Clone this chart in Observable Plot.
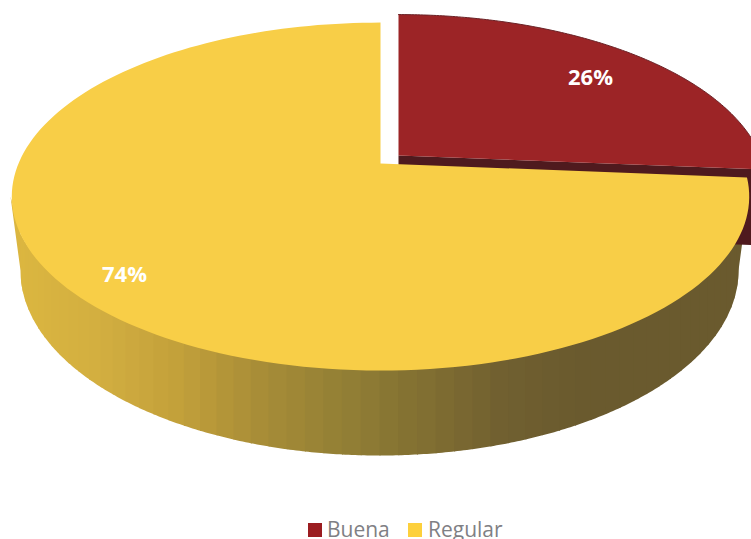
<!DOCTYPE html>
<html>
<head>
<meta charset="utf-8">
<script src="https://cdn.jsdelivr.net/npm/d3@7"></script>
<script src="https://cdn.jsdelivr.net/npm/@observablehq/plot@0.6"></script>
<style>
html,body{margin:0;padding:0;background:#fff;overflow:hidden}
#legend{position:relative;width:751px;height:23px;overflow:hidden;font-family:"Open Sans",sans-serif;font-size:21px;color:#7f8084}
#legend i{position:absolute;top:7px;width:14px;height:14px}
#legend span{position:absolute;top:3px;line-height:20px;white-space:nowrap}
</style>
</head>
<body>
<div id="chart"></div>
<div id="legend"></div>
<script>
const categories = ["Buena", "Regular"];
const shares = [26, 74];
const labels = ["26%", "74%"];
const sliceColors = ["#9c2426", "#f8ce47"];
const legendColors = ["#9b1c20", "#fdd03c"];
const darkRed = "#4f1a1e";
const redEdge = "#6a2226";
const wallStops = ["#dbb640", "#d2ae40", "#c2a03a", "#a88d37", "#938035", "#827032", "#716030", "#6a5a2e", "#6a5a2e", "#6a5a2e"];

// chart-space geometry of the tilted disc
const H = 516;
const pivot = {x: 380, y: 163}, persp = -0.19, radX = 362, radY = 167.7;
const warp = 0.0031;
const explode = {x: 18, y: -8};
const depth = 76;
const rimTop = {cx: 379, cy: 196, rx: 369, ry: 174};
const rimBottom = {cx: 379, cy: 270, rx: 359, ry: 185};

const project = (turn, r = 1) => {
  const a0 = turn * 2 * Math.PI;
  const a = a0 + warp * 2 * Math.PI * Math.sin(a0);
  const u = r * Math.sin(a), v = -r * Math.cos(a), w = 1 + persp * v;
  return {x: pivot.x + radX * u / w, y: pivot.y + radY * v / w};
};
const arc = (from, to) => d3.range(161).map(i => project(from + (to - from) * i / 160));
const sector = (from, to) => [{x: pivot.x, y: pivot.y}, ...arc(from, to)];
const shift = (pts, d) => pts.map(p => ({x: p.x + d.x, y: p.y + d.y}));

const total = d3.sum(shares);
const cut = shares[0] / total;
const redTop = shift(sector(0, cut), explode);
const redArc = shift(arc(0, cut), explode);
const yellowTop = sector(cut, 1);

// dark cut face of the pulled-out slice
const redEnd = redTop[redTop.length - 1];
const redCorner = redTop[0];
const redWall = [redCorner, redEnd, {x: redEnd.x, y: redEnd.y + depth}, {x: redCorner.x, y: redCorner.y + depth}];

// banded outer wall of the large slice: vertical bands, left to right, each overlapping the next
const ramp = d3.piecewise(d3.interpolateRgb, wallStops);
const bandsN = 60, wall = [];
const bottomAt = x => rimBottom.cy + rimBottom.ry * Math.sqrt(Math.max(0, 1 - ((x - rimBottom.cx) / rimBottom.rx) ** 2));
const topAt = x => rimTop.cy + rimTop.ry * Math.sqrt(Math.max(0, 1 - ((x - rimTop.cx) / rimTop.rx) ** 2));
const xL = rimBottom.cx - rimBottom.rx, xR = rimBottom.cx + rimBottom.rx;
for (let b = 0; b < bandsN; b++) {
  const f0 = b / bandsN, f1 = (b + 1) / bandsN;
  const x0 = rimBottom.cx - rimBottom.rx * Math.cos(Math.PI * f0);
  const x1 = b === bandsN - 1 ? xR : rimBottom.cx - rimBottom.rx * Math.cos(Math.PI * f1);
  const x2 = Math.min(xR, x1 + 1);
  const c = d3.color(ramp(((x0 + x1) / 2 - xL) / (xR - xL))).formatHex();
  const quad = [];
  const xs = d3.range(0, 7).map(i => x0 + (x2 - x0) * i / 6);
  if (b === 0) quad.push({x: rimTop.cx - rimTop.rx, y: rimTop.cy});
  xs.forEach(x => quad.push({x, y: topAt(x) - 3}));
  if (b === bandsN - 1) quad.push({x: rimTop.cx + rimTop.rx, y: rimTop.cy});
  xs.slice().reverse().forEach(x => quad.push({x, y: bottomAt(x)}));
  quad.forEach(p => wall.push({...p, band: b, c}));
}

const textPoints = [{x: 590, y: 77, t: labels[0]}, {x: 124, y: 274, t: labels[1]}];
const poly = (data, color) => Plot.line(data, {x: "x", y: "y", fill: color, stroke: "none", curve: "linear-closed"});

const plot = Plot.plot({
  width: 751, height: H,
  marginTop: 0, marginRight: 0, marginBottom: 0, marginLeft: 0,
  x: {axis: null, domain: [0, 751], range: [0, 751]},
  y: {axis: null, domain: [0, H], range: [0, H]},
  color: {type: "identity"},
  marks: [
    Plot.line(wall, {x: "x", y: "y", z: "band", fill: "c", stroke: "none", curve: "linear-closed"}),
    poly(redWall, darkRed),
    poly(redTop, sliceColors[0]),
    Plot.line(redArc, {x: "x", y: "y", stroke: redEdge, strokeWidth: 1}),
    poly(yellowTop, sliceColors[1]),
    Plot.text(textPoints, {x: "x", y: "y", text: "t", fill: "#fff", fontSize: 22, fontWeight: 700, fontFamily: "Open Sans", textAnchor: "middle"})
  ]
});
document.getElementById("chart").appendChild(plot);
plot.style.display = "block";

const legendPos = [{sw: 308, tx: 327}, {sw: 408, tx: 428}];
const lg = document.getElementById("legend");
categories.forEach((c, i) => {
  const s = document.createElement("i");
  s.style.left = legendPos[i].sw + "px";
  s.style.background = legendColors[i];
  const t = document.createElement("span");
  t.style.left = legendPos[i].tx + "px";
  t.textContent = c;
  lg.append(s, t);
});
</script>
</body>
</html>
